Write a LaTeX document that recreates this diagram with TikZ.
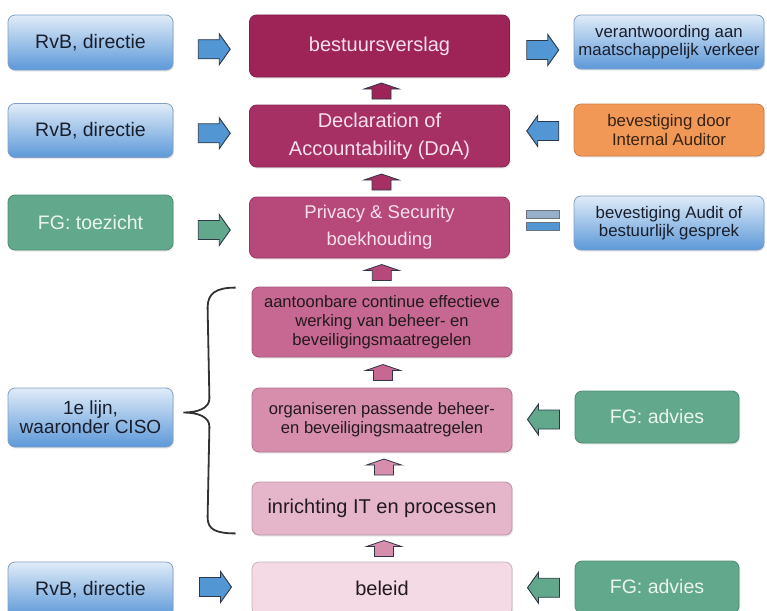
\documentclass[tikz,border=0pt]{standalone}
\usepackage{fontspec}
\setmainfont{Liberation Sans}
\usetikzlibrary{shadows,calc}

\definecolor{cOne}{RGB}{158,36,88}
\definecolor{cTwo}{RGB}{166,48,100}
\definecolor{cThree}{RGB}{182,72,122}
\definecolor{cFour}{RGB}{198,104,145}
\definecolor{cFive}{RGB}{214,142,172}
\definecolor{cSix}{RGB}{229,182,202}
\definecolor{cSeven}{RGB}{243,218,228}
\definecolor{lightpink}{RGB}{248,224,236}
\definecolor{darktext}{RGB}{35,25,30}
\definecolor{bluetop}{RGB}{224,236,248}
\definecolor{bluebot}{RGB}{92,152,216}
\definecolor{bluedraw}{RGB}{128,160,196}
\definecolor{bluetext}{RGB}{25,30,45}
\definecolor{greenfill}{RGB}{98,168,140}
\definecolor{greendraw}{RGB}{78,138,114}
\definecolor{greentext}{RGB}{234,245,240}
\definecolor{orangefill}{RGB}{241,152,86}
\definecolor{orangedraw}{RGB}{205,125,70}
\definecolor{orangetext}{RGB}{55,35,20}
\definecolor{arrowblue}{RGB}{82,150,212}
\definecolor{arrowline}{RGB}{45,55,70}
\definecolor{eqtop}{RGB}{150,176,202}
\definecolor{bracecol}{RGB}{50,50,50}

\newcommand{\fszA}{\fontsize{19.5}{22}\selectfont}
\newcommand{\fszB}{\fontsize{20}{28}\selectfont}
\newcommand{\fszC}{\fontsize{18.5}{27}\selectfont}
\newcommand{\fszD}{\fontsize{16.8}{18.5}\selectfont}
\newcommand{\fszE}{\fontsize{16.6}{19}\selectfont}
\newcommand{\fszF}{\fontsize{19}{15.5}\selectfont}

\tikzset{
  box/.style={rounded corners=7pt, inner sep=2pt, align=center,
    drop shadow={opacity=0.18, shadow xshift=1.2pt, shadow yshift=-1.6pt}},
  bluebox/.style={box, draw=bluedraw, line width=0.8pt, top color=bluetop,
    bottom color=bluebot, text=bluetext},
  greenbox/.style={box, draw=greendraw, line width=0.8pt, fill=greenfill, text=greentext},
  orangebox/.style={box, draw=orangedraw, line width=0.8pt, fill=orangefill, text=orangetext},
  cbox/.style={box, draw=#1!82!black, line width=0.8pt, fill=#1, minimum width=260},
  arrblue/.style={fill=arrowblue, draw=arrowline, line width=0.9pt},
  arrgreen/.style={fill=greenfill, draw=arrowline, line width=0.9pt},
  arrup/.style={fill=#1, draw=arrowline, line width=0.8pt},
  rarr/.pic={\path[pic actions] (-16,-9.5) -- (5,-9.5) -- (5,-15.5) -- (16,0) -- (5,15.5)
     -- (5,9.5) -- (-16,9.5) -- cycle;},
  larr/.pic={\path[pic actions] (16,-9.5) -- (-5,-9.5) -- (-5,-15.5) -- (-16,0) -- (-5,15.5)
     -- (-5,9.5) -- (16,9.5) -- cycle;},
  uarr/.pic={\path[pic actions] (-9.5,8) -- (-9.5,-2) -- (-17.5,-2) -- (0,-8) -- (17.5,-2)
     -- (9.5,-2) -- (9.5,8) -- cycle;},
}

\begin{document}
\begin{tikzpicture}[x=1pt,y=-1pt]
\useasboundingbox (0,0) rectangle (767,610);
\clip (0,0) rectangle (767,610);

% left column
\node[bluebox, minimum width=165, minimum height=55, font=\fszA] (L1) at (90.5,42.5) {RvB, directie};
\node[bluebox, minimum width=165, minimum height=54, font=\fszA] (L2) at (90.5,130.5) {RvB, directie};
\node[greenbox, minimum width=165, minimum height=55, font=\fszA] (L3) at (90.5,222.5) {FG: toezicht};
\node[bluebox, minimum width=165, minimum height=59, font=\fszF] (L4) at (90.5,417.5) {1e lijn,\\waaronder CISO};
\node[bluebox, minimum width=165, minimum height=55, font=\fszA] (L5) at (90.5,589.5) {RvB, directie};

% center column
\node[cbox=cOne, minimum height=62, font=\fszB, text=lightpink] (C1) at (379.5,46) {bestuursverslag};
\node[cbox=cTwo, minimum height=62, font=\fszB, text=lightpink] (C2) at (379.5,136) {Declaration of\\Accountability (DoA)};
\node[cbox=cThree, minimum height=61, font=\fszC, text=lightpink] (C3) at (379.5,227.5) {Privacy \& Security\\boekhouding};
\node[cbox=cFour, minimum height=70, font=\fszE, text=darktext] (C4) at (382,322) {aantoonbare continue effectieve\\werking van beheer- en\\beveiligingsmaatregelen};
\node[cbox=cFive, minimum height=64, font=\fszE, text=darktext] (C5) at (382,420) {organiseren passende beheer-\\en beveiligingsmaatregelen};
\node[cbox=cSix, minimum height=53, font=\fszB, text=darktext] (C6) at (382,508.5) {inrichting IT en processen};
\node[cbox=cSeven, minimum height=53, font=\fszB, text=darktext] (C7) at (382,588.5) {beleid};

% right column
\node[bluebox, minimum width=190, minimum height=54, font=\fszD] (R1) at (669,42) {verantwoording aan\\maatschappelijk verkeer};
\node[orangebox, minimum width=190, minimum height=52, font=\fszD] (R2) at (669,130) {bevestiging door\\Internal Auditor};
\node[bluebox, minimum width=190, minimum height=54, font=\fszD] (R3) at (669,223) {bevestiging Audit of\\bestuurlijk gesprek};
\node[greenbox, minimum width=164, minimum height=52, font=\fszA] (R4) at (657,417) {FG: advies};
\node[greenbox, minimum width=164, minimum height=52, font=\fszA] (R5) at (657,587) {FG: advies};

% horizontal block arrows
\pic[arrblue] at ($(L1.east)!0.5!(C1.west)+(3,5)$) {rarr};
\pic[arrblue] at ($(C1.east)!0.5!(R1.west)+(1,6)$) {rarr};
\pic[arrblue] at ($(L2.east)!0.5!(C2.west)+(3,0)$) {rarr};
\pic[arrblue] at ($(C2.east)!0.5!(R2.west)+(1,-2)$) {larr};
\pic[arrgreen] at ($(L3.east)!0.5!(C3.west)+(3,5)$) {rarr};
\pic[arrgreen] at ($(C5.east)!0.5!(R4.west)+(0,1)$) {larr};
\pic[arrblue] at ($(L5.east)!0.5!(C7.west)+(3,-2)$) {rarr};
\pic[arrgreen] at ($(C7.east)!0.5!(R5.west)+(0,0)$) {larr};

% equal sign between C3 and R3
\coordinate (EQ) at ($(C3.east)!0.5!(R3.west)+(1,-5)$);
\fill[eqtop, draw=arrowline!70, line width=0.7pt] ($(EQ)+(-16.5,-10)$) rectangle ($(EQ)+(16.5,-2)$);
\fill[arrowblue, draw=arrowline!70, line width=0.7pt] ($(EQ)+(-16.5,2)$) rectangle ($(EQ)+(16.5,10)$);

% vertical block arrows
\pic[arrup=cOne] at ($(C1.south)!0.5!(C2.north)+(2,0)$) {uarr};
\pic[arrup=cTwo] at ($(C2.south)!0.5!(C3.north)+(2,0)$) {uarr};
\pic[arrup=cThree] at ($(C3.south)!0.5!(C4.north)+(1,0)$) {uarr};
\pic[arrup=cFour] at ($(C4.south)!0.5!(C5.north)+(1,0)$) {uarr};
\pic[arrup=cFive] at ($(C5.south)!0.5!(C6.north)+(2,0)$) {uarr};
\pic[arrup=cFive] at ($(C6.south)!0.5!(C7.north)+(2,0)$) {uarr};

% brace grouping C4..C6 towards L4
\coordinate (bT) at ($(C4.north west)+(-16,1)$);
\coordinate (bB) at ($(C6.south west)+(-16,-2)$);
\coordinate (bM) at ($(L4.east)+(10,-5)$);
\draw[bracecol, line width=1.8pt]
  (bT) .. controls ($(bT)+(-20,0)$) and ($(bT)+(-28,6)$) .. ($(bT)+(-28,20)$)
  -- ($(bM)+(26,-14)$) .. controls ($(bM)+(26,-4)$) and ($(bM)+(14,0)$) .. (bM)
  .. controls ($(bM)+(14,0)$) and ($(bM)+(26,4)$) .. ($(bM)+(26,14)$)
  -- ($(bB)+(-28,-16)$) .. controls ($(bB)+(-28,-4)$) and ($(bB)+(-20,0)$) .. (bB);
\end{tikzpicture}
\end{document}
